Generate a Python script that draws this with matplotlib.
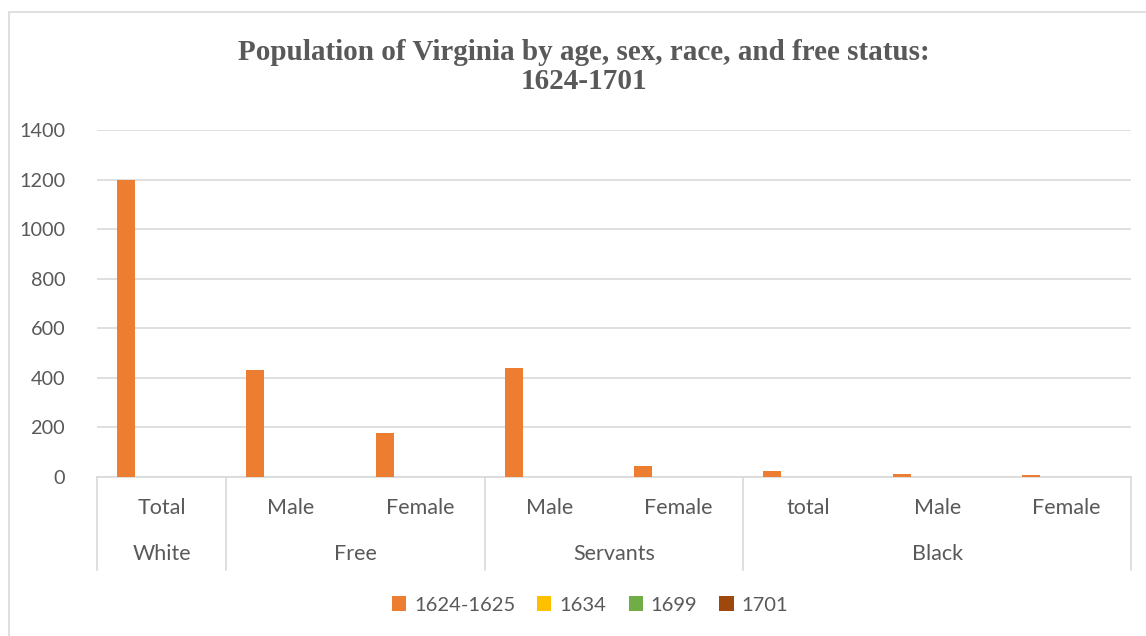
import matplotlib
matplotlib.use('Agg')
import matplotlib.pyplot as plt
import matplotlib.transforms as mtransforms
from matplotlib.patches import Rectangle
import numpy as np

################ data ################
sub_labels = ['Total', 'Male', 'Female', 'Male', 'Female', 'total', 'Male', 'Female']
groups = ['White', 'Free', 'Servants', 'Black']
group_sizes = [1, 2, 2, 3]
series_names = ['1624-1625', '1634', '1699', '1701']
v_1624 = [1200, 432, 176, 441, 46, 23, 11, 10]
v_1634 = [0, 0, 0, 0, 0, 0, 0, 0]
v_1699 = [0, 0, 0, 0, 0, 0, 0, 0]
v_1701 = [0, 0, 0, 0, 0, 0, 0, 0]
series_vals = [v_1624, v_1634, v_1699, v_1701]
colors = ['#ED7D31', '#FFC000', '#70AD47', '#9E480E']
yticks = [0, 200, 400, 600, 800, 1000, 1200, 1400]

################ figure ################
W, H = 1146, 636
fig = plt.figure(figsize=(W/100, H/100), dpi=100)
gray = '#595959'
grid = '#d9d9d9'
sans = ['Lato', 'DejaVu Sans']

# outer chart border
fig.patches.append(Rectangle((9/W, -0.1), 1.2, 1 - 12/H + 0.1, transform=fig.transFigure,
                             fill=False, edgecolor=grid, lw=1.2))

ax_l, ax_r, ax_t, ax_b = 97, 1131, 130, 477
ax = fig.add_axes([ax_l/W, 1 - ax_b/H, (ax_r-ax_l)/W, (ax_b-ax_t)/H])

x = np.arange(len(sub_labels))
step = 0.183
bw = 0.139
for i, (name, vals) in enumerate(zip(series_names, series_vals)):
    ax.bar(x + (i-1.5)*step, vals, width=bw, color=colors[i], label=name, zorder=3)

ax.set_xlim(-0.5, len(sub_labels)-0.5)
ax.set_ylim(0, 1400)
ax.set_yticks(yticks)
ax.set_yticklabels([str(t) for t in yticks], family=sans, fontsize=14.3, color=gray)
ax.tick_params(axis='y', length=0, pad=23)
ax.set_xticks([])
ax.grid(axis='y', color=grid, lw=1.2, zorder=0)
for s in ['top', 'right', 'left']:
    ax.spines[s].set_visible(False)
ax.spines['bottom'].set_color(grid)
ax.spines['bottom'].set_linewidth(1.2)

# multi-level category axis
ah = ax_b - ax_t
trans = mtransforms.blended_transform_factory(ax.transData, ax.transAxes)
row1 = -(508 - ax_b)/ah
row2 = -(554 - ax_b)/ah
line_bot = -(570 - ax_b)/ah
for xi, lab in zip(x, sub_labels):
    ax.text(xi, row1, lab, transform=trans, ha='center', va='center',
            family=sans, fontsize=15.5, color=gray)
edge = -0.5
ax.plot([edge, edge], [0, line_bot], transform=trans, color=grid, lw=1.2, clip_on=False)
for g, n in zip(groups, group_sizes):
    ax.text(edge + n/2, row2, g, transform=trans, ha='center', va='center',
            family=sans, fontsize=15.5, color=gray)
    edge += n
    ax.plot([edge, edge], [0, line_bot], transform=trans, color=grid, lw=1.2, clip_on=False)

# title
fig.text(584/W, 1 - 67/H, 'Population of Virginia by age, sex, race, and free status:\n1624-1701',
         ha='center', va='center', family='Liberation Serif', fontweight='bold',
         fontsize=21, color=gray, linespacing=1.12)

# legend
leg = fig.legend(loc='center', bbox_to_anchor=(590/W, 1 - 605/H), ncol=4, frameon=False,
                 prop={'family': sans, 'size': 14.5}, handlelength=0.7, handleheight=0.7,
                 handletextpad=0.4, columnspacing=1.1)
for t in leg.get_texts():
    t.set_color(gray)

fig.savefig('out.png', dpi=100)
